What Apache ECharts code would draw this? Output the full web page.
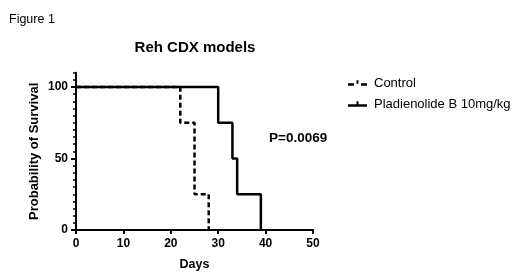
<!DOCTYPE html>
<html>
<head>
<meta charset="utf-8">
<style>html,body{margin:0;padding:0;background:#fff;}#c{width:520px;height:277px;}</style>
<script src="https://cdn.jsdelivr.net/npm/echarts@6/dist/echarts.min.js"></script>
</head>
<body>
<div id="c"></div>
<script>
const seriesNames = ['Control', 'Pladienolide B 10mg/kg'];
const controlDays = [0, 22, 25, 28];
const controlSurvival = [100, 75, 25, 0];
const pladDays = [0, 30, 33, 34, 39];
const pladSurvival = [100, 75, 50, 25, 0];
const xTicks = [0, 10, 20, 30, 40, 50];
const yTicks = [0, 50, 100];
const pValueText = 'P=0.0069';

const FONT = '"Liberation Sans", Arial, sans-serif';
const zip = (a, b) => a.map((v, i) => [v, b[i]]);

const chart = echarts.init(document.getElementById('c'), null, {renderer: 'canvas'});
chart.setOption({
  animation: false,
  backgroundColor: '#fff',
  title: [
    {text: 'Figure 1', left: 9, top: 13, padding: 0, textStyle: {fontFamily: FONT, fontSize: 12.5, fontWeight: 'normal', color: '#000'}},
    {text: 'Reh CDX models', left: 195, top: 40, padding: 0, textAlign: 'center', textStyle: {fontFamily: FONT, fontSize: 15, fontWeight: 'bold', color: '#000'}},
    {text: pValueText, left: 269, top: 131, padding: 0, textStyle: {fontFamily: FONT, fontSize: 13.5, fontWeight: 'bold', color: '#000'}}
  ],
  legend: {
    orient: 'vertical',
    left: 348,
    top: 76,
    padding: 0,
    itemWidth: 19,
    itemHeight: 7,
    itemGap: 7,
    textStyle: {fontFamily: FONT, fontSize: 13, color: '#000', lineHeight: 14, padding: [0, 0, 0, 2]},
    data: [
      {name: seriesNames[0], icon: 'path://M0,4H6V6.5H0Z M8.5,1H10.5V4.5H8.5Z M13,4H19V6.5H13Z'},
      {name: seriesNames[1], icon: 'path://M0,4H19V6.5H0Z M8.5,1H10.5V5H8.5Z'}
    ]
  },
  grid: {left: 76, right: 207, top: 72.7, bottom: 47, containLabel: false},
  xAxis: {
    type: 'value', min: 0, max: 50, interval: 10,
    name: 'Days', nameLocation: 'middle', nameGap: 28,
    nameTextStyle: {fontFamily: FONT, fontSize: 12.5, fontWeight: 'bold', color: '#000'},
    axisLine: {show: true, lineStyle: {color: '#000', width: 2}},
    axisTick: {show: true, length: 4, lineStyle: {color: '#000', width: 2}},
    axisLabel: {fontFamily: FONT, fontSize: 12, fontWeight: 'bold', color: '#000', margin: 8,
      formatter: v => xTicks.includes(v) ? String(v) : ''},
    splitLine: {show: false}
  },
  yAxis: [
    {
      type: 'value', min: 0, max: 110,
      name: 'Probability of Survival', nameLocation: 'middle', nameGap: 35,
      nameTextStyle: {fontFamily: FONT, fontSize: 13, fontWeight: 'bold', color: '#000'},
      axisLine: {show: true, lineStyle: {color: '#000', width: 2}},
      axisTick: {show: true, length: 5, customValues: yTicks, lineStyle: {color: '#000', width: 2}},
      axisLabel: {fontFamily: FONT, fontSize: 12, fontWeight: 'bold', color: '#000', margin: 8, customValues: yTicks},
      splitLine: {show: false}
    },
    {
      type: 'value', min: 0, max: 110, interval: 5, position: 'left',
      axisLine: {show: false},
      axisTick: {show: true, length: 3, lineStyle: {color: '#000', width: 1.5}},
      axisLabel: {show: false},
      splitLine: {show: false}
    }
  ],
  series: [
    {
      name: seriesNames[0], type: 'line', step: 'end', symbol: 'none',
      data: zip(controlDays, controlSurvival),
      lineStyle: {color: '#000', width: 2.5, type: [5, 3]},
      itemStyle: {color: '#000'}
    },
    {
      name: seriesNames[1], type: 'line', step: 'end', symbol: 'none',
      data: zip(pladDays, pladSurvival),
      lineStyle: {color: '#000', width: 2.5, type: 'solid'},
      itemStyle: {color: '#000'}, z: 3
    }
  ]
});
</script>
</body>
</html>
